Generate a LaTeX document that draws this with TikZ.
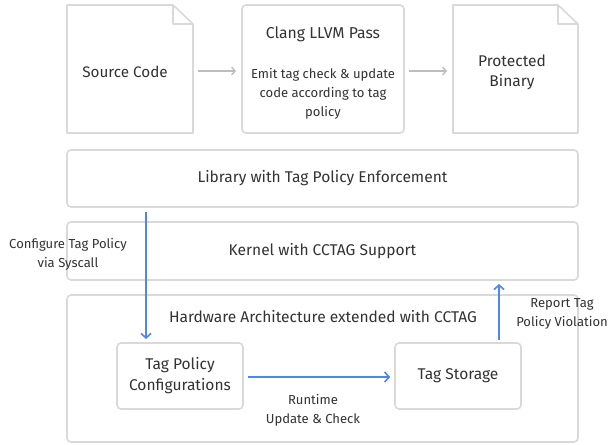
\documentclass[tikz,border=0pt]{standalone}
\usepackage{fontspec}
\setmainfont{Fira Sans}
\usetikzlibrary{arrows.meta,calc}
\definecolor{bordergray}{HTML}{D9D9D9}
\definecolor{arrowgray}{HTML}{BDBDBD}
\definecolor{flowblue}{HTML}{4F86EC}
\definecolor{txt}{HTML}{333333}
\tikzset{
  box/.style={draw=bordergray, line width=1.6bp, rounded corners=4bp, text=txt, align=center, inner sep=0pt},
  plain/.style={inner sep=0pt, text=txt, align=center, font=\fontsize{15.6}{20}\selectfont},
  small/.style={inner sep=0pt, text=txt, align=center, font=\fontsize{13.1}{19}\selectfont},
  garrow/.style={draw=arrowgray, line width=1.4bp, -{Straight Barb[length=3.5bp,width=8bp,line width=1.4bp]}},
  barrow/.style={draw=flowblue, line width=1.6bp, -{Straight Barb[length=4.5bp,width=10bp,line width=1.6bp]}},
  docline/.style={draw=bordergray, line width=1.6bp, line join=round}
}
\begin{document}
\begin{tikzpicture}[x=1bp,y=-1bp]
\useasboundingbox (0,0) rectangle (608,445);
\fill[white] (0,0) rectangle (608,445);
% document shapes
\draw[docline] (67,5) -- (173,5) -- (193,24) -- (193,133) -- (67,133) -- cycle;
\draw[docline] (173,5) -- (173,24) -- (193,24);
\node[plain, font=\fontsize{15.3}{20}\selectfont] (src) at (125,72) {Source Code};
\draw[docline] (453,5) -- (558,5) -- (578,24) -- (578,133) -- (453,133) -- cycle;
\draw[docline] (558,5) -- (558,24) -- (578,24);
\node[plain] (bin) at (512,72.5) {Protected\\Binary};
% clang
\node[box, minimum width=162bp, minimum height=128bp] (clang) at (323,69) {};
\node[plain, font=\fontsize{15.8}{20}\selectfont] (clangt) at (323,34) {Clang LLVM Pass};
\node[plain, font=\fontsize{13.1}{19}\selectfont] (clangd) at (323,93.5) {Emit tag check \& update\\code according to tag\\policy};
\coordinate (srcE) at (198,71);
\coordinate (clangW) at (236,71);
\coordinate (clangE) at (409,71);
\coordinate (binW) at (447,71);
\draw[garrow] (srcE) -- (clangW);
\draw[garrow] (clangE) -- (binW);
% layers
\node[box, minimum width=511bp, minimum height=57bp, font=\fontsize{15.6}{20}\selectfont] (lib) at (322.5,178.5) {Library with Tag Policy Enforcement};
\node[box, minimum width=511bp, minimum height=58bp, font=\fontsize{15.6}{20}\selectfont] (kern) at (322.5,251) {Kernel with CCTAG Support};
\node[box, minimum width=511bp, minimum height=147bp] (hw) at (322.5,368.5) {};
\node[plain] (hwt) at (323,317) {Hardware Architecture extended with CCTAG};
\node[box, minimum width=126bp, minimum height=66bp, font=\fontsize{15.6}{21}\selectfont] (tpc) at (180,376) {Tag Policy\\Configurations};
\node[box, minimum width=126bp, minimum height=66bp, font=\fontsize{15.6}{20}\selectfont] (ts) at (458,376) {Tag Storage};
% blue arrows
\coordinate (cfgTop) at (146,212);
\coordinate (cfgBot) at (146,339);
\draw[barrow] (cfgTop) -- (cfgBot);
\node[small] (cfgl) at (68,254) {Configure Tag Policy\\via Syscall};
\coordinate (rtS) at ($(tpc.east)+(4,1)$);
\coordinate (rtE) at ($(ts.west)+(-4,1)$);
\draw[barrow] (rtS) -- (rtE);
\node[small] (rtl) at (313,410) {Runtime\\Update \& Check};
\coordinate (repS) at (499,340);
\coordinate (repE) at (499,284);
\draw[barrow] (repS) -- (repE);
\node[small] (repl) at (562,314) {Report Tag\\Policy Violation};
\end{tikzpicture}
\end{document}
